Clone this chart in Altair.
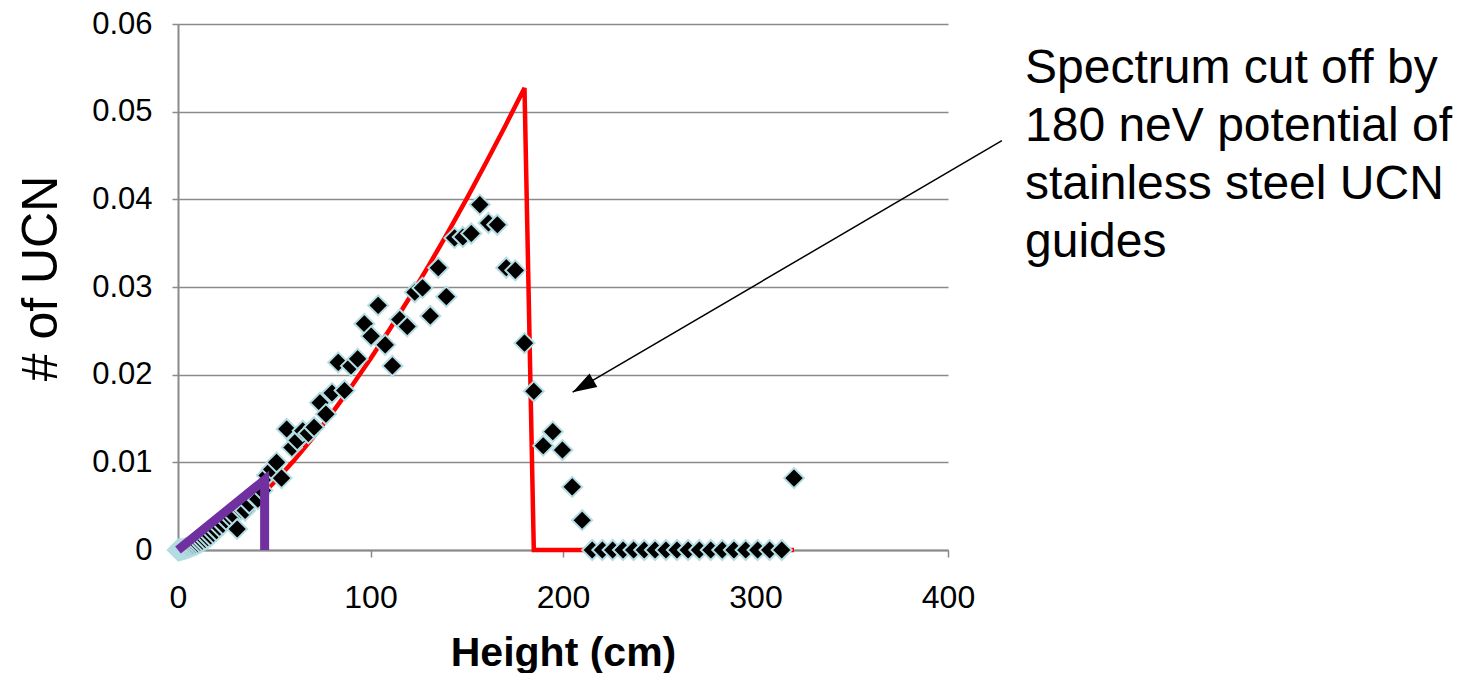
import altair as alt
import pandas as pd

# Measured spectrum: bin heights (cm) and normalised UCN counts per bin
height_cm = [
    0.0, 0.03, 0.13, 0.29, 0.51, 0.8, 1.15, 1.57, 2.05, 2.59,
    3.2, 3.87, 4.61, 5.41, 6.27, 7.2, 8.19, 9.25, 10.37, 11.55,
    12.8, 14.11, 15.49, 16.93, 18.43, 20.0, 21.63, 23.33, 25.09, 26.91,
    28.8, 30.75, 32.77, 34.85, 36.99, 39.2, 41.47, 43.81, 46.21, 48.67,
    51.2, 53.79, 56.45, 59.17, 61.95, 64.8, 67.71, 70.69, 73.73, 76.83,
    80.0, 83.23, 86.53, 89.89, 93.31, 96.8, 100.35, 103.97, 107.65, 111.39,
    115.2, 119.07, 123.01, 127.01, 131.07, 135.2, 139.39, 143.65, 147.97, 152.35,
    156.8, 161.31, 165.89, 170.53, 175.23, 180.0, 184.83, 189.73, 194.69, 199.71,
    204.8, 209.95, 215.17, 220.45, 225.79, 231.2, 236.67, 242.21, 247.81, 253.47,
    259.2, 264.99, 270.85, 276.77, 282.75, 288.8, 294.91, 301.09, 307.33, 313.63,
    320.0,
]
ucn_per_bin = [
    0, 0, 0, 0, 0, 0.00002, 0.00003, 0.00005, 0.00007, 0.0001,
    0.00013, 0.00017, 0.00022, 0.00027, 0.00034, 0.00042, 0.0005, 0.0006, 0.0007, 0.00085,
    0.001, 0.0012, 0.0014, 0.0016, 0.0019, 0.0022, 0.0026, 0.0029, 0.0034, 0.0038,
    0.0040, 0.0024, 0.0046, 0.0045, 0.0053, 0.0062, 0.0058, 0.0068, 0.0085, 0.0092,
    0.0100, 0.0082, 0.0138, 0.0117, 0.0125, 0.0136, 0.0133, 0.0140, 0.0168, 0.0155,
    0.0179, 0.0214, 0.0182, 0.0210, 0.0218, 0.0258, 0.0244, 0.0279, 0.0234, 0.0210,
    0.0263, 0.0255, 0.0294, 0.0299, 0.0267, 0.0322, 0.0289, 0.0356, 0.0357, 0.0361,
    0.0394, 0.0373, 0.0371, 0.0322, 0.0319, 0.0236, 0.0181, 0.0119, 0.0135, 0.0114,
    0.0072, 0.0034, 0, 0, 0, 0, 0, 0, 0, 0,
    0, 0, 0, 0, 0, 0, 0, 0, 0, 0,
    0.0082,
]

# Model spectrum, cut off at the guide potential
model_height = [0, 10, 20, 30, 40, 50, 60, 70, 80, 90, 100, 110, 120, 130,
                140, 150, 160, 170, 180, 184.83, 320]
model_ucn = [0, 0.00069, 0.00195, 0.00359, 0.00552, 0.00772, 0.01014, 0.01278,
             0.01561, 0.01863, 0.02182, 0.02518, 0.02869, 0.03235, 0.03615,
             0.04009, 0.04417, 0.04837, 0.0527, 0, 0]

# Low-energy window marker
window_height = [0, 45, 45]
window_ucn = [0, 0.008, 0]

# Annotation arrow (tail, head) and note text
arrow_height = [428, 205]
arrow_ucn = [0.0467, 0.018]
note_lines = ["Spectrum cut off by", "180 neV potential of",
              "stainless steel UCN", "guides"]
note_height = 440
note_ucn = 0.0533

FONT = "Liberation Sans"
GRAY = "#8a8a8a"

x_scale = alt.Scale(domain=[0, 400], nice=False)
y_scale = alt.Scale(domain=[0, 0.06], nice=False)

x_axis = alt.Axis(
    values=[0, 100, 200, 300, 400], title="Height (cm)", grid=False,
    labelFont=FONT, labelFontSize=32, labelColor="black", labelPadding=25,
    labelFlush=False, labelOverlap=False,
    tickSize=7, tickColor=GRAY, tickWidth=1.5,
    domainColor=GRAY, domainWidth=2,
    titleFont=FONT, titleFontSize=41, titleFontWeight="bold", titleColor="black",
    titleBaseline="alphabetic", titleY=115, titleX=385, titleAnchor="middle",
)
y_axis = alt.Axis(
    values=[0, 0.01, 0.02, 0.03, 0.04, 0.05, 0.06], title="# of UCN",
    labelExpr="datum.value == 0 ? '0' : format(datum.value, '.2f')",
    labelFlush=False, labelOverlap=False,
    grid=True, gridColor=GRAY, gridWidth=1.5,
    labelFont=FONT, labelFontSize=31, labelColor="black", labelPadding=20,
    tickSize=6, tickColor=GRAY, tickWidth=1.5,
    domainColor=GRAY, domainWidth=2,
    titleFont=FONT, titleFontSize=50, titleFontWeight="normal", titleColor="black",
    titleBaseline="alphabetic", titleAngle=-90, titleX=-122, titleY=254,
    titleAnchor="middle",
)

measured = pd.DataFrame({"h": height_cm, "n": ucn_per_bin})
model = pd.DataFrame({"h": model_height, "n": model_ucn,
                      "k": list(range(len(model_height)))})
window = pd.DataFrame({"h": window_height, "n": window_ucn,
                       "k": list(range(len(window_height)))})
arrow = pd.DataFrame({"h": arrow_height, "n": arrow_ucn, "k": [0, 1]})
head = arrow.iloc[[1]]
note = pd.DataFrame({"h": [note_height], "n": [note_ucn],
                     "t": ["\n".join(note_lines)]})

X = alt.X("h:Q", scale=x_scale, axis=x_axis)
Y = alt.Y("n:Q", scale=y_scale, axis=y_axis)

model_line = alt.Chart(model).mark_line(
    color="#ff0000", strokeWidth=4.5, strokeJoin="miter"
).encode(x=X, y=Y, order="k:Q")

points = alt.Chart(measured).mark_point(
    shape="diamond", filled=True, fill="black", stroke="#b4dde3",
    strokeWidth=2, size=400, opacity=1
).encode(x=X, y=Y)

window_line = alt.Chart(window).mark_line(
    color="#7030a0", strokeWidth=9, strokeJoin="miter"
).encode(x=X, y=Y, order="k:Q")

arrow_line = alt.Chart(arrow).mark_line(
    color="black", strokeWidth=1.5, clip=False
).encode(x=X, y=Y, order="k:Q")

arrow_head = alt.Chart(head).mark_point(
    shape="M0,0L-0.65,2L0.65,2Z", filled=True, fill="black", size=576,
    angle=240, opacity=1, clip=False
).encode(x=X, y=Y)

note_text = alt.Chart(note).mark_text(
    align="left", baseline="alphabetic", font=FONT, fontSize=48,
    lineHeight=58, lineBreak="\n", color="black", clip=False
).encode(x=X, y=Y, text="t:N")

chart = alt.layer(
    model_line, points, window_line, arrow_line, arrow_head, note_text
).properties(
    width=770, height=526,
    padding={"left": 178, "top": 24, "right": 524, "bottom": 123},
    autosize=alt.AutoSizeParams(type="none"),
    background="white",
).configure_view(stroke=None)

chart.save("out.html", embed_options={"renderer": "svg", "actions": False})
